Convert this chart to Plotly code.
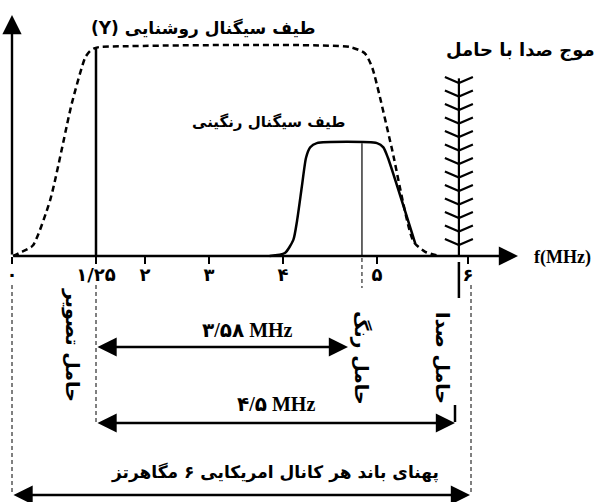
import numpy as np
import plotly.graph_objects as go

# frequency axis (the reference drawing is schematic, not to scale)
TICK_MHZ = [0, 1.25, 2, 3, 4, 5, 6]
TICK_LABELS = ["۰", "۱/۲۵", "۲", "۳", "۴", "۵", "۶"]

# luminance (Y) spectrum, dashed envelope
LUMA_F = [0.015, 0.15, 0.31, 0.57, 0.89, 1.09, 1.16, 1.235, 1.31, 4.71, 4.87, 4.95, 5.16, 5.40, 5.53, 5.69]
LUMA_A = [0, 0.02, 0.05, 0.27, 0.73, 0.95, 0.98, 0.995, 1.0, 1.0, 0.97, 0.90, 0.52, 0.07, 0.02, 0]

# chrominance spectrum
CHROMA_F = [3.82, 4.02, 4.11, 4.15, 4.20, 4.245, 4.29, 4.36, 5.0, 5.07, 5.12, 5.42]
CHROMA_A = [0, 0.014, 0.077, 0.17, 0.33, 0.47, 0.52, 0.54, 0.54, 0.52, 0.47, 0.06]

LUMA_CARRIER = 1.25
CHROMA_CARRIER = 4.84
SOUND_CARRIER = 5.9
CHROMA_LEVEL = 0.54
SOUND_LEVEL = 0.85

# drawing layout (pixels)
W, H = 596, 502
TICK_X = [12, 96, 145, 209, 283, 377, 468]
BASE_Y, TOP_Y = 256, 47
FA = "DejaVu Sans"
FS = "Liberation Serif, DejaVu Sans"


def fx(f):
    return np.interp(f, TICK_MHZ, TICK_X)


def ya(py):
    return (BASE_Y - py) / (BASE_Y - TOP_Y)


fig = go.Figure()

fig.add_trace(go.Scatter(
    x=fx(LUMA_F), y=LUMA_A, mode="lines",
    line=dict(color="black", width=2.5, dash="6px,4px", shape="spline", smoothing=0.6),
))
fig.add_trace(go.Scatter(
    x=fx(CHROMA_F), y=CHROMA_A, mode="lines",
    line=dict(color="black", width=2.5, shape="spline", smoothing=0.6),
))

# carriers
lx = float(fx(LUMA_CARRIER))
cx = float(fx(CHROMA_CARRIER))
sx = float(fx(SOUND_CARRIER))
fig.add_trace(go.Scatter(x=[lx, lx], y=[0, 1], mode="lines", line=dict(color="black", width=2.5)))
fig.add_trace(go.Scatter(x=[cx, cx], y=[0, CHROMA_LEVEL], mode="lines", line=dict(color="black", width=1.2)))

# sound carrier with chevrons
xs, ys = [sx, sx, None], [0, SOUND_LEVEL, None]
for k in range(13):
    py = 83 + 13.5 * k
    xs += [sx - 14, sx, sx + 14, None]
    ys += [ya(py - 6), ya(py), ya(py - 6), None]
fig.add_trace(go.Scatter(x=xs, y=ys, mode="lines", line=dict(color="black", width=2.2)))

# dashed guide lines below the axis
guides = [(12, 285, 495), (lx, 285, 425), (471, 285, 492), (cx, 258, 288)]
gx, gy = [], []
for x0, p0, p1 in guides:
    gx += [x0, x0, None]
    gy += [ya(p0), ya(p1), None]
fig.add_trace(go.Scatter(x=gx, y=gy, mode="lines", line=dict(color="black", width=1, dash="4px,3px")))

# solid marks below the axis
fig.add_trace(go.Scatter(x=[sx, sx, None, 455, 455], y=[ya(262), ya(298), None, ya(405), ya(422)],
                         mode="lines", line=dict(color="black", width=2.5)))


def arrow(x0, y0, x1, y1, both=False):
    fig.add_annotation(
        x=x1, y=ya(y1), ax=x0, ay=ya(y0), xref="x", yref="y", axref="x", ayref="y",
        text="", showarrow=True, arrowhead=2, arrowsize=1.6, arrowwidth=2.4,
        startarrowhead=2, startarrowsize=1.6,
        arrowside="end+start" if both else "end", arrowcolor="black", standoff=0, startstandoff=0,
    )


# axes
arrow(12, BASE_Y, 518, BASE_Y)
arrow(12, BASE_Y, 12, 15)

# dimension arrows
arrow(lx, 347, 348, 347, both=True)
arrow(lx, 423, 455, 423, both=True)
arrow(12, 495, 470, 495, both=True)


def label(text, x, py, size=16, family=FA, angle=0):
    fig.add_annotation(x=x, y=ya(py), xref="x", yref="y", text=text, showarrow=False,
                       textangle=angle, font=dict(family=family, size=size, color="black", weight="bold"))


label("(Y) طیف سیگنال روشنایی", 203, 28, 17)
label("موج صدا با حامل", 520, 50, 18)
label("طیف سیگنال رنگینی", 268, 122, 15)
label("f(MHz)", 562, 257, 18, FS)
label("۳/۵۸ MHz", 247, 330, 20, FS)
label("۴/۵ MHz", 276, 404, 20, FS)
label("پهنای باند هر کانال امریکایی ۶ مگاهرتز", 275, 472, 17)
label("حامل تصویر", 73, 345, 19, angle=90)
label("حامل رنگ", 362, 358, 19, angle=90)
label("حامل صدا", 443, 358, 19, angle=90)

fig.update_layout(
    width=W, height=H, showlegend=False,
    margin=dict(l=0, r=0, t=0, b=0),
    paper_bgcolor="white", plot_bgcolor="white",
    xaxis=dict(
        range=[0, W], showgrid=False, zeroline=False, showline=False,
        tickmode="array", tickvals=TICK_X, ticktext=TICK_LABELS,
        ticks="outside", ticklen=7, tickwidth=2, tickcolor="black",
        ticklabelstandoff=-5,
        tickfont=dict(family=FA, size=18, color="black", weight="bold"),
        anchor="free", position=(H - BASE_Y) / H,
    ),
    yaxis=dict(range=[ya(H), ya(0)], visible=False),
)

fig.write_html("out.html", config={"displayModeBar": False},
               post_script="document.body.style.margin='0';")
